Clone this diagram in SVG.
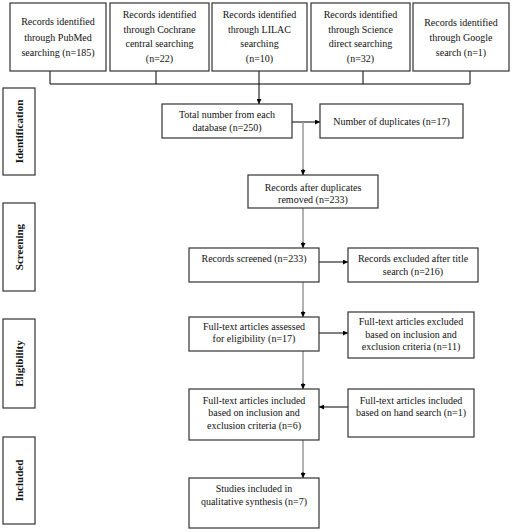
<svg xmlns="http://www.w3.org/2000/svg" width="518" height="532" viewBox="0 0 518 532">
<defs>
<marker id="ah" viewBox="0 0 10 10" refX="10" refY="5" markerWidth="5" markerHeight="5" markerUnits="userSpaceOnUse" orient="auto">
<path d="M0,0 L10,5 L0,10 z" fill="#000"/>
</marker>
<style>
.box{fill:#fff;stroke:#333;stroke-width:1.2}
.t{font-family:"Liberation Serif","Times New Roman",serif;font-size:10px;fill:#111;text-anchor:middle}
.side{font-family:"Liberation Serif","Times New Roman",serif;font-size:11px;font-weight:bold;fill:#111;text-anchor:middle}
.k{stroke:#000;stroke-width:1;fill:none}
.g{stroke:#999;stroke-width:1.5;fill:none}
</style>
</defs>
<rect width="518" height="532" fill="#fff"/>

<g id="connectors">
<polyline class="k" points="50,71 50,84 470,84 470,71"/>
<line class="k" x1="156" y1="71" x2="156" y2="84"/>
<line class="k" x1="363" y1="71" x2="363" y2="84"/>
<line class="k" x1="259" y1="71" x2="259" y2="104" marker-end="url(#ah)"/>
<line class="k" x1="292" y1="122" x2="320" y2="122" marker-end="url(#ah)"/>
<line class="g" x1="303" y1="122" x2="303" y2="170"/>
<line class="k" x1="303" y1="169" x2="303" y2="175" marker-end="url(#ah)"/>
<line class="g" x1="303" y1="208" x2="303" y2="243"/>
<line class="k" x1="303" y1="242" x2="303" y2="248" marker-end="url(#ah)"/>
<line class="k" x1="319" y1="262" x2="348" y2="262" marker-end="url(#ah)"/>
<line class="g" x1="303" y1="282" x2="303" y2="312"/>
<line class="k" x1="303" y1="311" x2="303" y2="317" marker-end="url(#ah)"/>
<line class="k" x1="319" y1="333" x2="348" y2="333" marker-end="url(#ah)"/>
<line class="g" x1="303" y1="351" x2="303" y2="384"/>
<line class="k" x1="303" y1="383" x2="303" y2="389" marker-end="url(#ah)"/>
<line class="k" x1="348" y1="407" x2="319" y2="407" marker-end="url(#ah)"/>
<line class="g" x1="303" y1="440" x2="303" y2="473"/>
<line class="k" x1="303" y1="472" x2="303" y2="478" marker-end="url(#ah)"/>
</g>

<g id="src-pubmed">
<rect class="box" x="10" y="3" width="96" height="68"/>
<text class="t" x="58" y="25">Records identified</text>
<text class="t" x="58" y="40.5">through PubMed</text>
<text class="t" x="58" y="56">searching (n=185)</text>
</g>
<g id="src-cochrane">
<rect class="box" x="110" y="3" width="99" height="68"/>
<text class="t" x="159.5" y="17.5">Records identified</text>
<text class="t" x="159.5" y="32.5">through Cochrane</text>
<text class="t" x="159.5" y="47">central searching</text>
<text class="t" x="159.5" y="62">(n=22)</text>
</g>
<g id="src-lilac">
<rect class="box" x="212" y="3" width="95" height="68"/>
<text class="t" x="259.5" y="17.5">Records identified</text>
<text class="t" x="259.5" y="32.5">through LILAC</text>
<text class="t" x="259.5" y="47">searching</text>
<text class="t" x="259.5" y="62">(n=10)</text>
</g>
<g id="src-science">
<rect class="box" x="311" y="3" width="99" height="68"/>
<text class="t" x="360.5" y="17.5">Records identified</text>
<text class="t" x="360.5" y="32.5">through Science</text>
<text class="t" x="360.5" y="47">direct searching</text>
<text class="t" x="360.5" y="62">(n=32)</text>
</g>
<g id="src-google">
<rect class="box" x="413" y="3" width="96" height="68"/>
<text class="t" x="461" y="25.5">Records identified</text>
<text class="t" x="461" y="40.5">through Google</text>
<text class="t" x="461" y="55.5">search (n=1)</text>
</g>

<g id="label-identification">
<rect class="box" x="3" y="88" width="32" height="87"/>
<text class="side" transform="translate(23,131.5) rotate(-90)">Identification</text>
</g>
<g id="label-screening">
<rect class="box" x="3" y="203" width="32" height="88"/>
<text class="side" transform="translate(23,247) rotate(-90)">Screening</text>
</g>
<g id="label-eligibility">
<rect class="box" x="3" y="319" width="32" height="89"/>
<text class="side" transform="translate(23,363.5) rotate(-90)">Eligibility</text>
</g>
<g id="label-included">
<rect class="box" x="3" y="437" width="32" height="87"/>
<text class="side" transform="translate(23,480.5) rotate(-90)">Included</text>
</g>

<g id="total">
<rect class="box" x="162" y="104" width="130" height="34"/>
<text class="t" x="227" y="117.5">Total number from each</text>
<text class="t" x="227" y="131">database (n=250)</text>
</g>
<g id="duplicates">
<rect class="box" x="320" y="104" width="143" height="34"/>
<text class="t" x="391.5" y="124.5">Number of duplicates (n=17)</text>
</g>
<g id="after-dup">
<rect class="box" x="248" y="175" width="130" height="33"/>
<text class="t" x="313" y="190.5">Records after duplicates</text>
<text class="t" x="313" y="203">removed (n=233)</text>
</g>
<g id="screened">
<rect class="box" x="189" y="248" width="130" height="34"/>
<text class="t" x="254" y="262">Records screened (n=233)</text>
</g>
<g id="excluded-title">
<rect class="box" x="348" y="248" width="130" height="34"/>
<text class="t" x="413" y="262">Records excluded after title</text>
<text class="t" x="413" y="274.5">search (n=216)</text>
</g>
<g id="assessed">
<rect class="box" x="189" y="317" width="130" height="34"/>
<text class="t" x="254" y="330">Full-text articles assessed</text>
<text class="t" x="254" y="342">for eligibility (n=17)</text>
</g>
<g id="excluded-criteria">
<rect class="box" x="348" y="312" width="126" height="46"/>
<text class="t" x="411" y="325">Full-text articles excluded</text>
<text class="t" x="411" y="337.5">based on inclusion and</text>
<text class="t" x="411" y="350">exclusion criteria (n=11)</text>
</g>
<g id="included-criteria">
<rect class="box" x="189" y="389" width="130" height="51"/>
<text class="t" x="254" y="403.5">Full-text articles included</text>
<text class="t" x="254" y="416">based on inclusion and</text>
<text class="t" x="254" y="428.5">exclusion criteria (n=6)</text>
</g>
<g id="hand-search">
<rect class="box" x="348" y="389" width="126" height="48"/>
<text class="t" x="411" y="403.5">Full-text articles included</text>
<text class="t" x="411" y="416">based on hand search (n=1)</text>
</g>
<g id="studies">
<rect class="box" x="189" y="478" width="130" height="50"/>
<text class="t" x="254" y="492">Studies included in</text>
<text class="t" x="254" y="505">qualitative synthesis (n=7)</text>
</g>
</svg>
